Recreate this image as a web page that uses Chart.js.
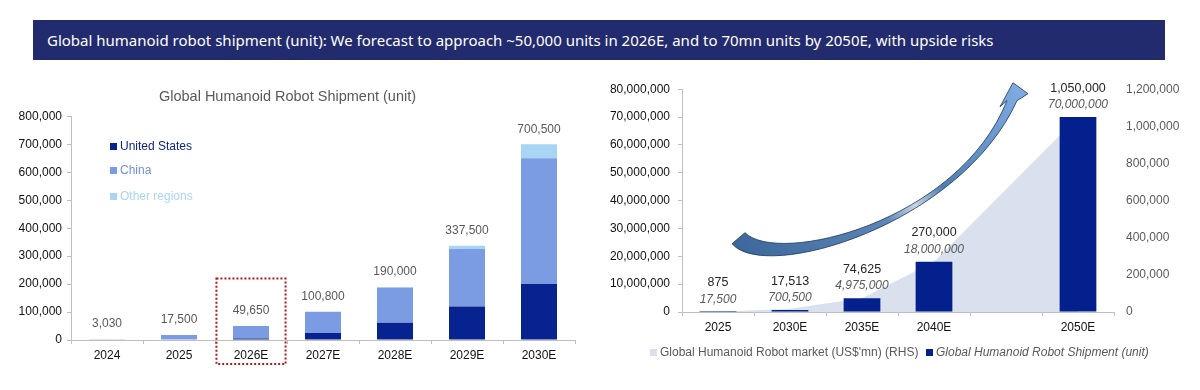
<!DOCTYPE html>
<html>
<head>
<meta charset="utf-8">
<script src="https://cdn.jsdelivr.net/npm/chart.js@4.4.1/dist/chart.umd.min.js"></script>
<style>
  html, body { margin:0; padding:0; background:#fff; width:1200px; height:390px; overflow:hidden; }
  #banner { position:absolute; left:33px; top:20px; width:1132px; height:40px; background:#232b6f;
            color:#fff; font-family:"Noto Sans", sans-serif; font-size:15px; line-height:40px; padding-left:14px; box-sizing:border-box; white-space:nowrap; }
  canvas { position:absolute; }
  #leftChart { left:0; top:70px; }
  #rightChart { left:600px; top:70px; }
  .lg { position:absolute; font-family:"Liberation Sans", Arial, sans-serif; font-size:12px; white-space:nowrap; line-height:14px; }
  .lg .sq { display:inline-block; width:7px; height:7px; margin-right:3px; vertical-align:0px; }
</style>
</head>
<body>
<div id="banner">Global humanoid robot shipment (unit): We forecast to approach ~50,000 units in 2026E, and to 70mn units by 2050E, with upside risks</div>
<canvas id="leftChart" width="600" height="320"></canvas>
<canvas id="rightChart" width="600" height="320"></canvas>
<div id="leftLegend"></div>
<div id="rightLegend"></div>
<script>
// ---------- Data ----------
const leftCategories = ['2024', '2025', '2026E', '2027E', '2028E', '2029E', '2030E'];
const usUnits    = [0, 0, 5000, 25000, 62000, 120000, 200000];
const chinaUnits = [3030, 17500, 44650, 75800, 125000, 205500, 450000];
const otherUnits = [0, 0, 0, 0, 3000, 12000, 50500];
const leftTotals = [3030, 17500, 49650, 100800, 190000, 337500, 700500];
const leftSeriesNames = ['United States', 'China', 'Other regions'];
const leftTitle = 'Global Humanoid Robot Shipment (unit)';
const highlightCategory = '2026E';

const rightCategories = ['2025', '2030E', '2035E', '2040E', '', '2050E'];
const shipmentUnits = [17500, 700500, 4975000, 18000000, null, 70000000];
const marketUSDmn   = [875, 17513, 74625, 270000, null, 1050000];
const rightSeriesNames = ["Global Humanoid Robot market (US$'mn) (RHS)", 'Global Humanoid Robot Shipment (unit)'];

// ---------- Styles ----------
const FONT = '"Liberation Sans", Arial, sans-serif';
const C_US = '#06238f', C_CN = '#7b9be2', C_OT = '#a9d5f4';
const C_BAR = '#03208c', C_AREA = '#d9e1ef';
const fmt = v => Number(v).toLocaleString('en-US');

// ---------- Left chart ----------
const leftLabelsPlugin = {
  id: 'leftLabels',
  afterDatasetsDraw(chart) {
    const ctx = chart.ctx;
    const xs = chart.scales.x, ys = chart.scales.y;
    ctx.save();
    ctx.font = '12px ' + FONT;
    ctx.fillStyle = '#595959';
    ctx.textAlign = 'center';
    ctx.textBaseline = 'middle';
    leftTotals.forEach((t, i) => {
      ctx.fillText(fmt(t), xs.getPixelForValue(i), ys.getPixelForValue(t) - 15);
    });
    // dotted highlight box
    const idx = leftCategories.indexOf(highlightCategory);
    const cw = xs.width / leftCategories.length;
    const cx = xs.getPixelForValue(idx);
    const x0 = cx - 0.48 * cw, x1 = cx + 0.48 * cw;
    const y0 = ys.getPixelForValue(220000), y1 = chart.chartArea.bottom + 24;
    ctx.strokeStyle = '#b5161b';
    ctx.lineWidth = 2;
    ctx.setLineDash([2, 2]);
    ctx.strokeRect(x0, y0, x1 - x0, y1 - y0);
    ctx.restore();
  }
};

new Chart(document.getElementById('leftChart'), {
  type: 'bar',
  data: {
    labels: leftCategories,
    datasets: [
      { label: leftSeriesNames[0], data: usUnits, backgroundColor: C_US },
      { label: leftSeriesNames[1], data: chinaUnits, backgroundColor: C_CN },
      { label: leftSeriesNames[2], data: otherUnits, backgroundColor: C_OT }
    ]
  },
  options: {
    responsive: false, animation: false,
    layout: { padding: { left: 0, right: 25, top: 0, bottom: 0 } },
    datasets: { bar: { categoryPercentage: 0.5, barPercentage: 1 } },
    plugins: {
      legend: { display: false }, tooltip: { enabled: false },
      title: { display: true, text: leftTitle, color: '#595959', font: { family: FONT, size: 14.5, weight: 'normal' }, padding: { top: 18, bottom: 11 } }
    },
    scales: {
      x: {
        stacked: true,
        afterFit(s) { s.height = 50; },
        grid: { drawOnChartArea: false, tickLength: 4, color: '#bfbfbf', offset: true },
        border: { color: '#bfbfbf' },
        ticks: { color: '#111', font: { family: FONT, size: 12 }, padding: 4 }
      },
      y: {
        stacked: true, min: 0, max: 800000,
        afterFit(s) { s.width = 71; },
        grid: { drawOnChartArea: false, tickLength: 4, color: '#bfbfbf' },
        border: { color: '#bfbfbf' },
        ticks: { stepSize: 100000, color: '#111', font: { family: FONT, size: 12 }, padding: 5, callback: v => fmt(v) }
      }
    }
  },
  plugins: [leftLabelsPlugin]
});

// left legend (HTML)
(function () {
  const el = document.getElementById('leftLegend');
  const colors = [C_US, C_CN, C_OT];
  const txtColors = ['#0d2290', '#6f8fdc', '#a9d5f4'];
  const tops = [139, 163, 189];
  leftSeriesNames.forEach((n, i) => {
    const d = document.createElement('div');
    d.className = 'lg';
    d.style.left = '110px'; d.style.top = tops[i] + 'px'; d.style.color = txtColors[i];
    d.innerHTML = '<span class="sq" style="background:' + colors[i] + '"></span>' + n;
    el.appendChild(d);
  });
})();

// ---------- Right chart ----------
const rightLabelsPlugin = {
  id: 'rightLabels',
  afterDatasetsDraw(chart) {
    const ctx = chart.ctx;
    const meta = chart.getDatasetMeta(1);
    ctx.save();
    ctx.textAlign = 'center';
    ctx.textBaseline = 'middle';
    shipmentUnits.forEach((v, i) => {
      if (v === null) return;
      const el = meta.data[i];
      ctx.font = 'italic 12px ' + FONT;
      ctx.fillStyle = '#595959';
      ctx.fillText(fmt(v), el.x, el.y - 12);
      ctx.font = '12.5px ' + FONT;
      ctx.fillStyle = '#262626';
      ctx.fillText(fmt(marketUSDmn[i]), el.x, el.y - 29);
    });
    // decorative curved arrow (positioned relative to the chart area)
    const ca = chart.chartArea;
    const P = (x, y) => [ca.left + (x - 682), ca.top + (y - 88.5)];
    const pts = {
      a0: P(732, 243), a1: P(765, 282), a2: P(960, 225), a3: P(1017, 100),
      h1: P(1028, 93), tip: P(1013, 82), h2: P(1000, 106),
      b0: P(1007, 100), b1: P(958, 222), b2: P(778, 265), b3: P(745, 232)
    };
    const g = ctx.createLinearGradient(pts.a0[0], pts.a0[1], pts.tip[0], pts.tip[1]);
    g.addColorStop(0, '#3c679a');
    g.addColorStop(0.45, '#5c86b8');
    g.addColorStop(0.55, '#c8d6e8');
    g.addColorStop(0.65, '#4f7db2');
    g.addColorStop(1, '#7eaae0');
    ctx.beginPath();
    ctx.moveTo(...pts.a0);
    ctx.bezierCurveTo(...pts.a1, ...pts.a2, ...pts.a3);
    ctx.lineTo(...pts.h1);
    ctx.lineTo(...pts.tip);
    ctx.lineTo(...pts.h2);
    ctx.lineTo(...pts.b0);
    ctx.bezierCurveTo(...pts.b1, ...pts.b2, ...pts.b3);
    ctx.closePath();
    ctx.fillStyle = g;
    ctx.fill();
    ctx.strokeStyle = '#1e3556';
    ctx.lineWidth = 0.8;
    ctx.stroke();
    ctx.restore();
  }
};

new Chart(document.getElementById('rightChart'), {
  type: 'bar',
  data: {
    labels: rightCategories,
    datasets: [
      { type: 'line', label: rightSeriesNames[0], data: marketUSDmn, yAxisID: 'y1', fill: 'origin',
        backgroundColor: C_AREA, borderWidth: 0, borderColor: C_AREA, pointRadius: 0, tension: 0, spanGaps: true, order: 2 },
      { type: 'bar', label: rightSeriesNames[1], data: shipmentUnits, yAxisID: 'y', backgroundColor: C_BAR,
        categoryPercentage: 0.5, barPercentage: 1.02, order: 1 }
    ]
  },
  options: {
    responsive: false, animation: false,
    layout: { padding: { left: 0, right: 0, top: 18, bottom: 0 } },
    plugins: { legend: { display: false }, tooltip: { enabled: false } },
    scales: {
      x: {
        afterFit(s) { s.height = 78; },
        grid: { drawOnChartArea: false, tickLength: 4, color: '#bfbfbf', offset: true },
        border: { color: '#bfbfbf' },
        ticks: { color: '#111', font: { family: FONT, size: 12 }, padding: 4 }
      },
      y: {
        position: 'left', min: 0, max: 80000000,
        afterFit(s) { s.width = 82; },
        grid: { drawOnChartArea: false, tickLength: 4, color: '#bfbfbf' },
        border: { color: '#bfbfbf' },
        ticks: { stepSize: 10000000, color: '#111', font: { family: FONT, size: 12 }, padding: 8, callback: v => fmt(v) }
      },
      y1: {
        position: 'right', min: 0, max: 1200000,
        afterFit(s) { s.width = 86; },
        grid: { display: false, drawTicks: false },
        border: { display: false },
        ticks: { stepSize: 200000, color: '#595959', font: { family: FONT, size: 12 }, padding: 12, callback: v => fmt(v) }
      }
    }
  },
  plugins: [rightLabelsPlugin]
});

// right legend (HTML)
(function () {
  const el = document.getElementById('rightLegend');
  const items = [
    { name: rightSeriesNames[0], color: C_AREA, left: 650, italic: false },
    { name: rightSeriesNames[1], color: C_BAR, left: 926, italic: true }
  ];
  items.forEach(it => {
    const d = document.createElement('div');
    d.className = 'lg';
    d.style.left = it.left + 'px'; d.style.top = '345px'; d.style.color = '#595959';
    if (it.italic) d.style.fontStyle = 'italic';
    d.innerHTML = '<span class="sq" style="background:' + it.color + '"></span>' + it.name;
    el.appendChild(d);
  });
})();
</script>
</body>
</html>
